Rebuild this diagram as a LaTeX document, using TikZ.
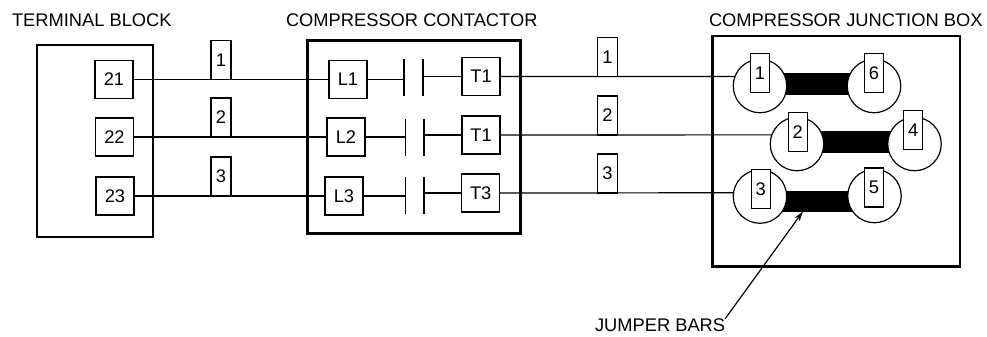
\documentclass[tikz,border=0pt]{standalone}
\usepackage{fontspec}
\setmainfont{Liberation Sans}
\usetikzlibrary{arrows.meta,calc}
\begin{document}
\begin{tikzpicture}[x=0.5pt,y=-0.5pt,
  every node/.style={font=\fontsize{9.15}{11}\selectfont, inner sep=0pt, outer sep=0pt},
  wire/.style={line width=0.6pt},
  term/.style={draw, line width=0.6pt, minimum width=19pt, minimum height=19pt, fill=white},
  wlab/.style={draw, line width=0.6pt, minimum width=10pt, minimum height=19.5pt, anchor=south, fill=white},
  outer/.style={draw, line width=1.3pt},
  circ/.style={draw, line width=0.6pt, circle, minimum size=26.75pt, fill=white},
  crect/.style={draw, line width=0.6pt, minimum width=9.5pt, minimum height=19.5pt, fill=white},
  bar/.style={fill=black, minimum height=11pt},
  title/.style={anchor=base west}
]
\useasboundingbox (0,0) rectangle (987,337);

% ---------- terminal block ----------
\node[outer, minimum width=58pt, minimum height=96pt] (tb) at (95,141) {};
\node[title] (tbt) at (12,26) {TERMINAL BLOCK};
\node[term] (t21) at (114,79.5) {21};
\node[term] (t22) at (114.5,137) {22};
\node[term] (t23) at (115,196) {23};

% ---------- compressor contactor ----------
\node[outer, minimum width=106.7pt, minimum height=96.3pt] (cc) at (414,137) {};
\node[title] (cct) at (286,26) {COMPRESSOR CONTACTOR};
\node[term] (L1) at (348,79.5) {L1};
\node[term] (L2) at (346,137) {L2};
\node[term] (L3) at (344,196) {L3};
\node[term] (T1) at (481,76.5) {T1};
\node[term] (T2) at (481,135) {T1};
\node[term] (T3) at (480.7,193) {T3};

\coordinate (k1l) at (404,77.5);
\coordinate (k1r) at (423,77.5);
\coordinate (k2l) at (405.3,137.5);
\coordinate (k2r) at (424,137.5);
\coordinate (k3l) at (405.3,195);
\coordinate (k3r) at (424,195);
\foreach \k in {k1l,k1r,k2l,k2r,k3l,k3r}
  \draw[wire] (\k) ++(0,-18.5) -- ++(0,37);
\draw[wire] (L1.east) -- (L1.east -| k1l);
\draw[wire] (L2.east) -- (L2.east -| k2l);
\draw[wire] (L3.east) -- (L3.east -| k3l);
\draw[wire] (k1r |- T1.west) -- (T1.west);
\draw[wire] (k2r |- T2.west) -- (T2.west);
\draw[wire] (k3r |- T3.west) -- (T3.west);

% ---------- compressor junction box ----------
\node[outer, minimum width=123.7pt, minimum height=115.3pt] (jb) at (836.3,151.3) {};
\node[title] (jbt) at (709,26) {COMPRESSOR JUNCTION BOX};
\node[bar, minimum width=57pt] (b1) at (817,84) {};
\node[bar, minimum width=58.75pt, minimum height=10.85pt] (b2) at (855.75,142) {};
\node[bar, minimum width=57.25pt, minimum height=10.5pt] (b3) at (817.25,201) {};
\node[circ] (c1) at (760,86) {};
\node[circ] (c6) at (874,86) {};
\node[circ] (c2) at (797,144) {};
\node[circ] (c4) at (914.5,144) {};
\node[circ] (c3) at (760,196.5) {};
\node[circ] (c5) at (874.5,196) {};
\node[crect] (p1) at (760,73.3) {1};
\node[crect] (p6) at (874,72.7) {6};
\node[crect] (p2) at (797.7,132) {2};
\node[crect] (p4) at (913.3,130) {4};
\node[crect] (p3) at (760.7,188.7) {3};
\node[crect] (p5) at (874,187.5) {5};

% ---------- wires ----------
\draw[wire] (t21.east) -- (L1.west);
\draw[wire] (t22.east) -- (L2.west);
\draw[wire] (t23.east) -- (L3.west);
\draw[wire] (T1.east) -- (c1.159);
\draw[wire] (T2.east) -- (c2.160);
\draw[wire] (T3.east) -- (c3.172.5);

\node[wlab] (w1) at (221,79.5) {1};
\node[wlab] (w2) at (221,137) {2};
\node[wlab] (w3) at (221,196) {3};
\node[wlab] (r1) at (607.5,76.5) {1};
\node[wlab] (r2) at (607.5,135) {2};
\node[wlab] (r3) at (607.5,193) {3};

% ---------- jumper bars label ----------
\node[title] (jbl) at (595,331.5) {JUMPER BARS};
\draw[wire, -{Stealth[length=5pt,width=3pt]}] (jbl.north east) -- ($(b3.south west)!0.375!(b3.south east)$);
\end{tikzpicture}
\end{document}
